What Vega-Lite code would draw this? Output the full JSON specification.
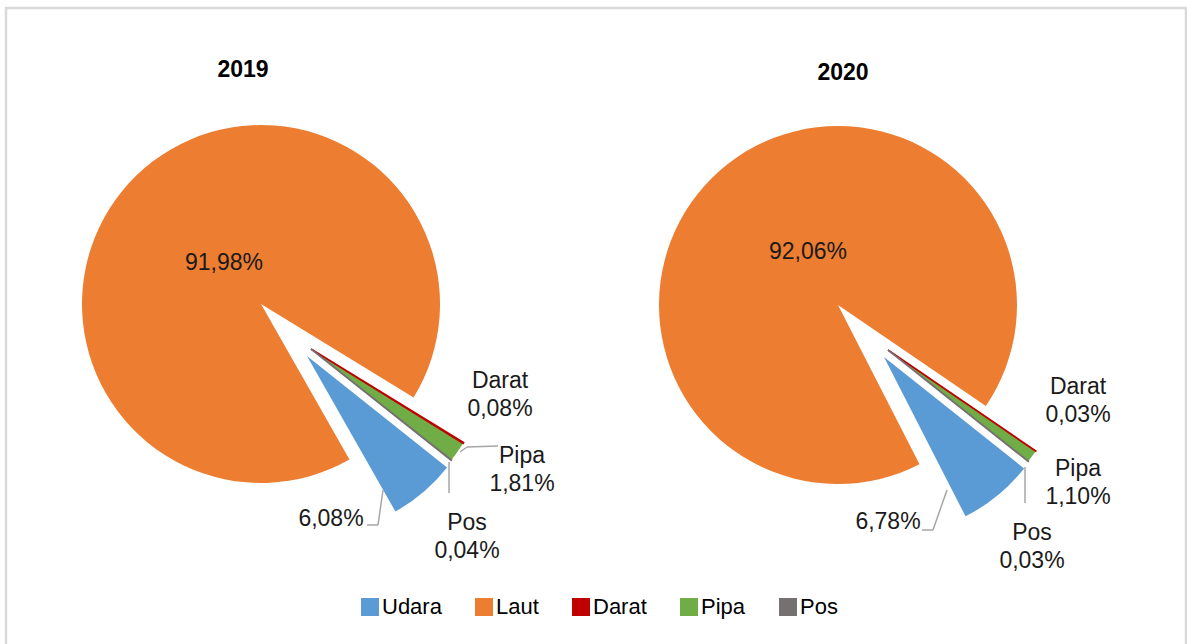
{
  "$schema": "https://vega.github.io/schema/vega-lite/v6.json",
  "width": 1180,
  "height": 640,
  "autosize": {"type": "none"},
  "padding": {"left": 6, "top": 8, "right": 1, "bottom": 0},
  "background": "white",
  "config": {"view": {"stroke": "#d9d9d9", "strokeWidth": 2.5}, "font": "Liberation Sans"},
  "data": {"values": [
    {"year": "2019", "cat": "Udara", "k": 1, "pct": 6.08},
    {"year": "2019", "cat": "Laut", "k": 2, "pct": 91.98},
    {"year": "2019", "cat": "Darat", "k": 3, "pct": 0.08},
    {"year": "2019", "cat": "Pipa", "k": 4, "pct": 1.81},
    {"year": "2019", "cat": "Pos", "k": 5, "pct": 0.04},
    {"year": "2020", "cat": "Udara", "k": 1, "pct": 6.78},
    {"year": "2020", "cat": "Laut", "k": 2, "pct": 92.06},
    {"year": "2020", "cat": "Darat", "k": 3, "pct": 0.03},
    {"year": "2020", "cat": "Pipa", "k": 4, "pct": 1.10},
    {"year": "2020", "cat": "Pos", "k": 5, "pct": 0.03}
  ]},
  "transform": [
    {"stack": "pct", "groupby": ["year"], "sort": [{"field": "k", "order": "ascending"}], "as": ["t0", "t1"]},
    {"calculate": "replace(format(datum.pct, '.2f'), '.', ',') + '%'", "as": "pl"}
  ],
  "encoding": {
    "x": {"field": "year", "type": "nominal", "scale": {"type": "point", "range": [255, 832], "padding": 0}, "axis": null},
    "y": {"field": "year", "type": "nominal", "scale": {"type": "point", "range": [296, 297], "padding": 0}, "axis": null}
  },
  "layer": [
    {
      "transform": [{"filter": "datum.cat == 'Laut'"}],
      "mark": {"type": "arc", "outerRadius": 179},
      "encoding": {
        "theta": {"field": "t0", "type": "quantitative", "stack": null, "scale": {"domain": [0, 100], "range": [2.2427, 8.5259]}},
        "theta2": {"field": "t1"},
        "color": {"field": "cat", "type": "nominal",
          "scale": {"domain": ["Udara", "Laut", "Darat", "Pipa", "Pos"], "range": ["#5B9BD5", "#ED7D31", "#C00000", "#70AD47", "#767171"]},
          "legend": {"title": null, "orient": "none", "direction": "horizontal", "legendX": 353, "legendY": 588, "padding": 0,
            "symbolType": "square", "symbolSize": 324, "symbolStrokeWidth": 0, "symbolOpacity": 1,
            "labelFontSize": 22, "labelFont": "Liberation Sans", "labelColor": "#000000", "labelOffset": 1, "columnPadding": 31}}
      }
    },
    {
      "transform": [{"filter": "datum.cat == 'Pipa'"}],
      "mark": {"type": "arc", "outerRadius": 179, "xOffset": 50, "yOffset": 45},
      "encoding": {
        "theta": {"field": "t0", "type": "quantitative", "stack": null},
        "theta2": {"field": "t1"},
        "color": {"field": "cat", "type": "nominal"}
      }
    },
    {
      "transform": [{"filter": "datum.cat == 'Darat' || datum.cat == 'Pos'"}],
      "mark": {"type": "arc", "outerRadius": 179, "xOffset": 50, "yOffset": 45, "strokeWidth": 1.6,
        "stroke": {"expr": "datum.cat == 'Darat' ? '#C00000' : '#767171'"}},
      "encoding": {
        "theta": {"field": "t0", "type": "quantitative", "stack": null},
        "theta2": {"field": "t1"},
        "color": {"field": "cat", "type": "nominal"}
      }
    },
    {
      "transform": [{"filter": "datum.cat == 'Udara'"}],
      "mark": {"type": "arc", "outerRadius": 179, "xOffset": 46, "yOffset": 52},
      "encoding": {
        "theta": {"field": "t0", "type": "quantitative", "stack": null},
        "theta2": {"field": "t1"},
        "color": {"field": "cat", "type": "nominal"}
      }
    },
    {
      "transform": [{"filter": "datum.cat == 'Udara'"}],
      "mark": {"type": "rule", "color": "#a6a6a6", "strokeWidth": 1.5,
        "xOffset": {"expr": "datum.year == '2019' ? 106 : 84"},
        "x2Offset": {"expr": "datum.year == '2019' ? 117 : 95"},
        "yOffset": {"expr": "datum.year == '2019' ? 221 : 225"},
        "y2Offset": {"expr": "datum.year == '2019' ? 221 : 225"}},
      "encoding": {"x2": {"field": "year"}, "y2": {"field": "year"}}
    },
    {
      "transform": [{"filter": "datum.cat == 'Udara'"}],
      "mark": {"type": "rule", "color": "#a6a6a6", "strokeWidth": 1.5,
        "xOffset": {"expr": "datum.year == '2019' ? 117 : 95"},
        "x2Offset": {"expr": "datum.year == '2019' ? 122 : 109"},
        "yOffset": {"expr": "datum.year == '2019' ? 221 : 225"},
        "y2Offset": {"expr": "datum.year == '2019' ? 186 : 185"}},
      "encoding": {"x2": {"field": "year"}, "y2": {"field": "year"}}
    },
    {
      "transform": [{"filter": "datum.cat == 'Pos'"}],
      "mark": {"type": "rule", "color": "#a6a6a6", "strokeWidth": 1.5,
        "xOffset": {"expr": "datum.year == '2019' ? 188 : 187"},
        "x2Offset": {"expr": "datum.year == '2019' ? 188 : 187"},
        "yOffset": {"expr": "datum.year == '2019' ? 158 : 162"},
        "y2Offset": {"expr": "datum.year == '2019' ? 189 : 198"}},
      "encoding": {"x2": {"field": "year"}, "y2": {"field": "year"}}
    },
    {
      "transform": [{"filter": "datum.cat == 'Pipa' && datum.year == '2019'"}],
      "mark": {"type": "rule", "color": "#a6a6a6", "strokeWidth": 1.5, "xOffset": 199, "x2Offset": 206, "yOffset": 148, "y2Offset": 143},
      "encoding": {"x2": {"field": "year"}, "y2": {"field": "year"}}
    },
    {
      "transform": [{"filter": "datum.cat == 'Pipa' && datum.year == '2019'"}],
      "mark": {"type": "rule", "color": "#a6a6a6", "strokeWidth": 1.5, "xOffset": 206, "x2Offset": 237, "yOffset": 143, "y2Offset": 142},
      "encoding": {"x2": {"field": "year"}, "y2": {"field": "year"}}
    },
    {
      "transform": [{"filter": "datum.cat == 'Laut'"}],
      "mark": {"type": "text", "font": "Liberation Sans", "fontSize": 23, "fontWeight": "bold", "color": "#000000", "align": "center", "baseline": "middle",
        "dx": {"expr": "datum.year == '2019' ? -18 : 5"},
        "dy": {"expr": "datum.year == '2019' ? -234 : -232"}},
      "encoding": {"text": {"field": "year"}}
    },
    {
      "transform": [{"filter": "datum.cat == 'Laut' || datum.cat == 'Udara'"}],
      "mark": {"type": "text", "font": "Liberation Sans", "fontSize": 23, "color": "#1a1a1a", "align": "center", "baseline": "middle",
        "dx": {"expr": "datum.cat == 'Laut' ? (datum.year == '2019' ? -37 : -30) : (datum.year == '2019' ? 70 : 50)"},
        "dy": {"expr": "datum.cat == 'Laut' ? (datum.year == '2019' ? -41 : -53) : (datum.year == '2019' ? 215 : 217)"}},
      "encoding": {"text": {"field": "pl"}}
    },
    {
      "transform": [{"filter": "datum.k >= 3"}, {"calculate": "datum.cat + '\\n' + datum.pl", "as": "tx"}],
      "mark": {"type": "text", "font": "Liberation Sans", "fontSize": 23, "color": "#1a1a1a", "align": "center", "baseline": "middle", "lineBreak": "\n", "lineHeight": 28,
        "dx": {"expr": "datum.cat == 'Darat' ? (datum.year == '2019' ? 239 : 240) : datum.cat == 'Pipa' ? (datum.year == '2019' ? 261 : 240) : (datum.year == '2019' ? 206 : 194)"},
        "dy": {"expr": "datum.cat == 'Darat' ? (datum.year == '2019' ? 77 : 82) : datum.cat == 'Pipa' ? (datum.year == '2019' ? 152 : 164) : (datum.year == '2019' ? 219 : 228)"}},
      "encoding": {"text": {"field": "tx"}}
    }
  ]
}
